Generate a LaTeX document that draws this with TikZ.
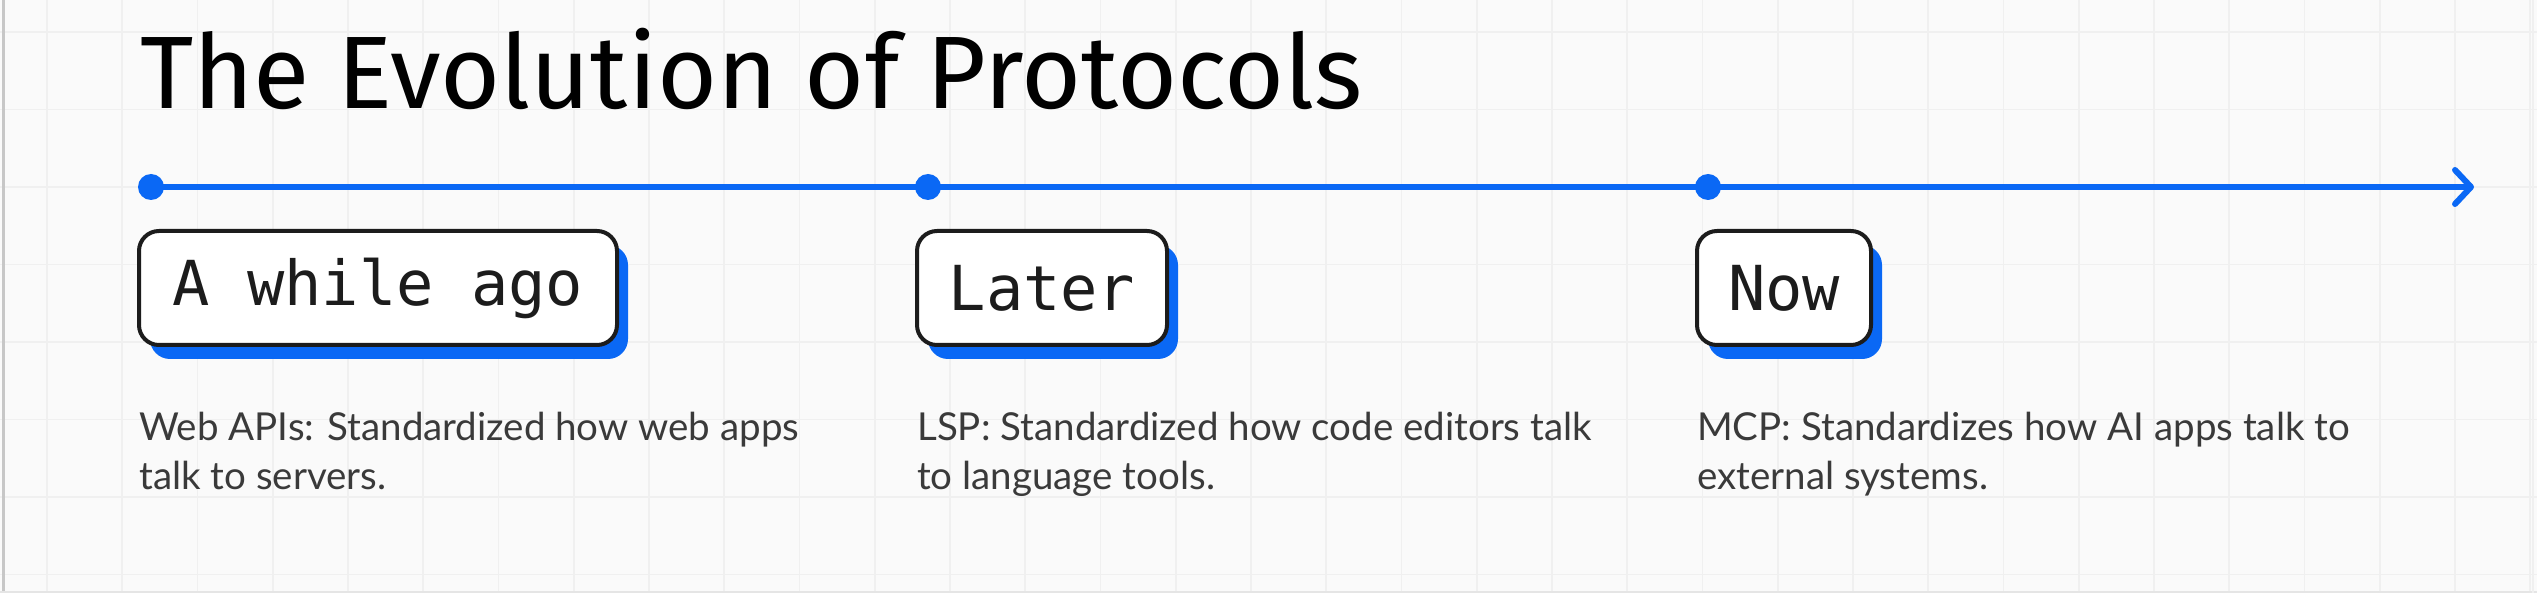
\documentclass[tikz,border=0pt]{standalone}
\usepackage{fontspec}
\usetikzlibrary{arrows.meta,shadows}
\setmainfont{Lato}
\newfontfamily\titlefont{Fira Sans}
\newfontfamily\monofont{DejaVu Sans Mono}
\newfontfamily\descfont{Lato}
\definecolor{tlblue}{RGB}{10,104,245}
\definecolor{bgcol}{RGB}{250,250,250}
\definecolor{gridcol}{RGB}{240,240,240}
\definecolor{boxline}{RGB}{28,28,28}
\definecolor{desccol}{RGB}{58,58,58}
\tikzset{
  gridline/.style={draw=gridcol, line width=1.6pt},
  tldot/.style={circle, fill=tlblue, minimum size=26pt, inner sep=0pt},
  tlline/.style={draw=tlblue, line width=6pt},
  stagebox/.style={draw=boxline, line width=4pt, fill=white, rounded corners=20pt,
    minimum height=114pt, inner sep=0pt, text=boxline,
    font=\monofont\fontsize{62}{70}\selectfont,
    drop shadow={shadow xshift=11pt, shadow yshift=-14pt, fill=tlblue, opacity=1}},
  desc/.style={anchor=base west, inner sep=0pt, text=desccol,
    font=\descfont\fontsize{38.5}{49}\selectfont}
}
\begin{document}
\begin{tikzpicture}[x=1pt, y=-1pt]
\useasboundingbox (0,0) rectangle (2537,593);
\fill[bgcol] (0,0) rectangle (2537,593);
% grid
\foreach \i in {0,...,33} \draw[gridline] ({47+75.25*\i},0) -- ++(0,593);
\foreach \j in {0,...,7} \draw[gridline] (0,{32+77.5*\j}) -- ++(2537,0);
% frame edges
\draw[draw=black!22, line width=3pt] (3,0) -- (3,593);
\draw[draw=black!10, line width=2pt] (0,592) -- (2537,592);
\draw[draw=black!6, line width=2pt] (2533,0) -- (2533,593);
% title
\node[anchor=base west, inner sep=0pt, font=\titlefont\fontsize{103}{112}\selectfont] (title) at (140,109) {The Evolution of Protocols};
% timeline
\coordinate (tend) at (2474,187);
\node[tldot] (d1) at (151,187) {};
\node[tldot] (d2) at (928,187) {};
\node[tldot] (d3) at (1708,187) {};
\draw[tlline, -{Straight Barb[length=16pt, width=34pt, round]}] (d1.center) -- (tend);
% stage boxes
\node[stagebox, minimum width=478pt] (b1) at (378,288) {A while ago};
\node[stagebox, minimum width=250pt] (b2) at (1042,288) {Later};
\node[stagebox, minimum width=174pt] (b3) at (1784,288) {Now};
% descriptions
\node[desc] (t1) at (139,440) {\parbox[t]{800pt}{\raggedright Web APIs: Standardized how web apps\\talk to servers.}};
\node[desc] (t2) at (917,440) {\parbox[t]{800pt}{\raggedright LSP: Standardized how code editors talk\\to language tools.}};
\node[desc] (t3) at (1697,440) {\parbox[t]{800pt}{\raggedright MCP: Standardizes how AI apps talk to\\external systems.}};
\end{tikzpicture}
\end{document}
